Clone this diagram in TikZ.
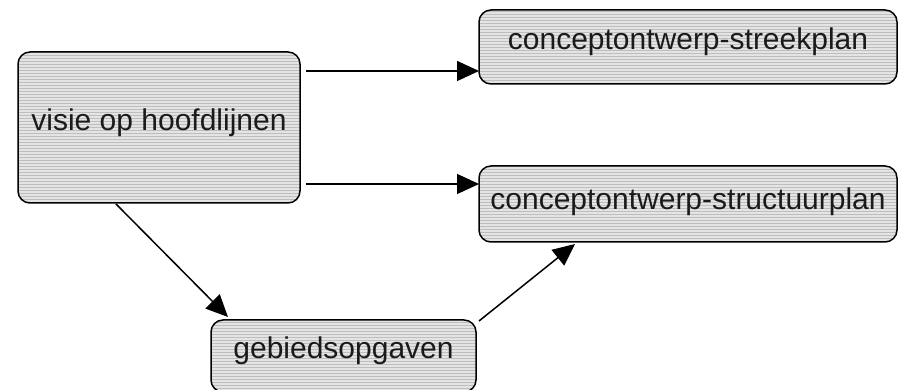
\documentclass[tikz,border=0pt]{standalone}
\usepackage{fontspec}
\setmainfont{Liberation Sans}
\usetikzlibrary{arrows.meta}
\definecolor{boxfill}{HTML}{E4E4E4}
\definecolor{stripecol}{HTML}{BEBEBE}
\definecolor{txt}{HTML}{1A1A1A}
\tikzset{
 stripes/.style={path picture={
   \fill[boxfill] (path picture bounding box.south west) rectangle (path picture bounding box.north east);
   \foreach \k in {0,...,60} \draw[stripecol, line width=1pt] ([yshift=\k*3pt]path picture bounding box.south west) -- ([yshift=\k*3pt]path picture bounding box.south east);
 }},
 box/.style={draw=black, line width=1.5pt, rounded corners=12pt, stripes, inner sep=0pt, outer sep=0pt,
   text height=21pt, text depth=15pt, text=txt, font=\fontsize{30}{35}\selectfont},
 arr/.style={line width=1.5pt, -{Triangle[length=22pt,width=20pt]}}
}
\begin{document}
\begin{tikzpicture}[x=1pt,y=1pt]
\useasboundingbox (0,0) rectangle (901,390);
\clip (0,0) rectangle (901,390);
\node[box, minimum width=282pt, minimum height=151pt] (visie) at (159,262.5) {visie op hoofdlijnen};
\node[box, minimum width=418pt, minimum height=74pt] (streek) at (688,343) {conceptontwerp-streekplan};
\node[box, minimum width=418pt, minimum height=76pt, text depth=10pt] (struct) at (688,186) {conceptontwerp-structuurplan};
\node[box, minimum width=265pt, minimum height=72pt] (gebied) at (343.5,34) {gebiedsopgaven};
\draw[arr] ([shift={(6pt,-19pt)}]visie.north east) -- ([yshift=13pt]streek.south west);
\draw[arr] ([shift={(6pt,19pt)}]visie.south east) -- ([yshift=-18pt]struct.north west);
\draw[arr] ([shift={(-43pt,-1pt)}]visie.south) -- ([shift={(17pt,3pt)}]gebied.north west);
\draw[arr] ([shift={(3pt,-1pt)}]gebied.north east) -- ([shift={(-113pt,-2pt)}]struct.south);
\end{tikzpicture}
\end{document}
